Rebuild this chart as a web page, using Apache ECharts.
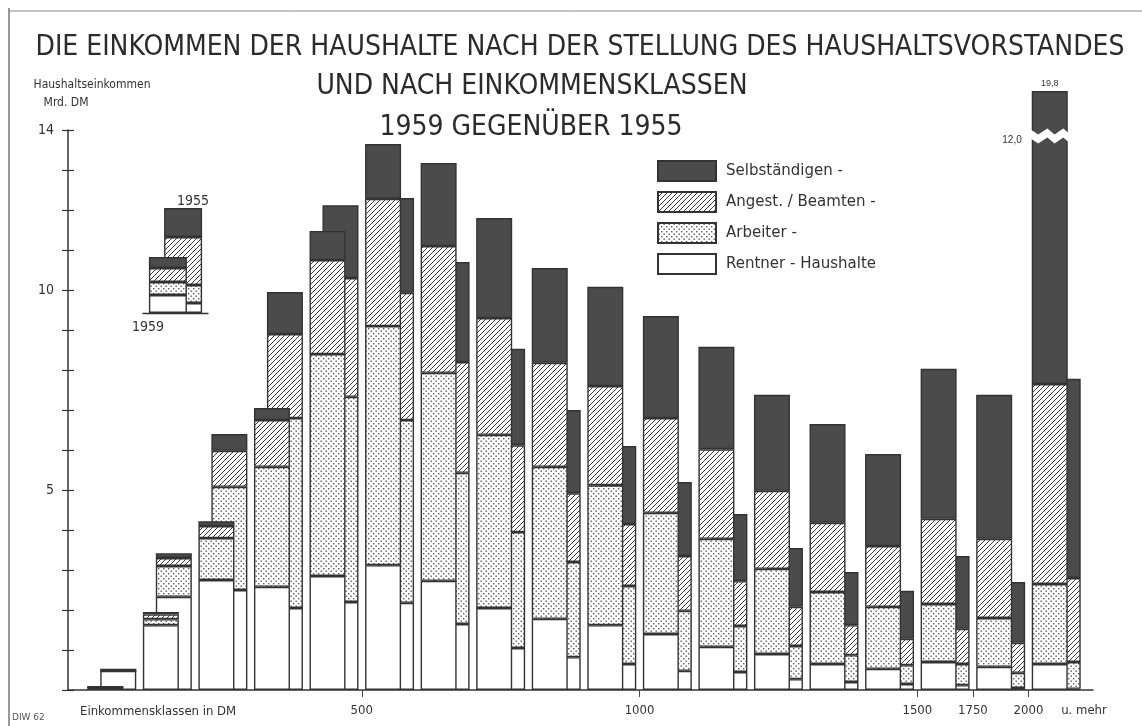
<!DOCTYPE html>
<html>
<head>
<meta charset="utf-8">
<title>Einkommen der Haushalte 1959 gegenüber 1955</title>
<script src="https://cdn.jsdelivr.net/npm/echarts@6.0.0/dist/echarts.min.js"></script>
<style>
html, body { margin: 0; padding: 0; background: #fff; }
#chart { width: 1142px; height: 726px; }
</style>
</head>
<body>
<div id="chart"></div>
<script>
// Einkommensklassen (Monatseinkommen des Haushalts in DM)
const classes = ['unter 200', '200-250', '250-300', '300-400', '400-500', '500-600', '600-700', '700-800', '800-900',
  '900-1000', '1000-1100', '1100-1200', '1200-1300', '1300-1400', '1400-1500', '1500-1750', '1750-2000', '2000 u. mehr']

// Haushaltseinkommen in Mrd. DM, 1959
const rentner1959 = [0.07, 1.62, 2.75, 2.58, 2.85, 3.12, 2.73, 2.05, 1.78, 1.62, 1.40, 1.08, 0.90, 0.65, 0.53, 0.70, 0.58, 0.65]
const arbeiter1959 = [0, 0.15, 1.05, 3.00, 5.55, 5.98, 5.20, 4.33, 3.80, 3.50, 3.03, 2.70, 2.13, 1.80, 1.55, 1.45, 1.22, 2.00]
const angest1959 = [0, 0.12, 0.30, 1.17, 2.35, 3.18, 3.17, 2.92, 2.60, 2.48, 2.37, 2.24, 1.95, 1.73, 1.52, 2.13, 1.98, 5.00]
const selbst1959 = [0.02, 0.06, 0.12, 0.30, 0.73, 1.37, 2.08, 2.50, 2.37, 2.48, 2.55, 2.56, 2.40, 2.47, 2.30, 3.75, 3.60, 12.15]

// Haushaltseinkommen in Mrd. DM, 1955
const rentner1955 = [0.48, 2.33, 2.50, 2.05, 2.20, 2.18, 1.65, 1.05, 0.82, 0.65, 0.48, 0.45, 0.27, 0.20, 0.15, 0.12, 0.05, 0.03]
const arbeiter1955 = [0, 0.77, 2.58, 4.75, 5.13, 4.57, 3.78, 2.90, 2.38, 1.95, 1.50, 1.15, 0.83, 0.67, 0.47, 0.53, 0.38, 0.67]
const angest1955 = [0, 0.20, 0.90, 2.10, 2.97, 3.18, 2.77, 2.17, 1.72, 1.55, 1.37, 1.12, 0.98, 0.75, 0.66, 0.88, 0.75, 2.10]
const selbst1955 = [0.05, 0.12, 0.42, 1.05, 1.82, 2.37, 2.50, 2.41, 2.08, 1.95, 1.85, 1.68, 1.47, 1.33, 1.20, 1.82, 1.52, 4.98]

// kleine Erklärungsgrafik (1959 vorn, 1955 dahinter)
const inset1959 = [1.8, 1.3, 1.4, 1.1]
const inset1955 = [1.0, 1.8, 4.8, 2.9]

const xTickLabels = ['500', '1000', '1500', '1750', '2000']
const yTickLabels = [5, 10, 14]
const breakLabel = '12,0'

const layerNames = ['Rentner - Haushalte', 'Arbeiter -', 'Angest. / Beamten -', 'Selbständigen -']

function hatchFill() {
  const c = document.createElement('canvas')
  c.width = 5; c.height = 5
  const ctx = c.getContext('2d')
  ctx.fillStyle = '#fff'
  ctx.fillRect(0, 0, 5, 5)
  ctx.strokeStyle = '#3a3a3a'
  ctx.lineWidth = 1
  ctx.beginPath()
  ctx.moveTo(-1, 6); ctx.lineTo(6, -1)
  ctx.moveTo(-1, 1); ctx.lineTo(1, -1)
  ctx.moveTo(4, 6); ctx.lineTo(6, 4)
  ctx.stroke()
  return { image: c, repeat: 'repeat' }
}

function dotFill() {
  const c = document.createElement('canvas')
  c.width = 5; c.height = 5
  const ctx = c.getContext('2d')
  ctx.fillStyle = '#fff'
  ctx.fillRect(0, 0, 5, 5)
  ctx.fillStyle = '#5a5a5a'
  ctx.fillRect(0.5, 0.5, 1.4, 1.4)
  ctx.fillRect(3, 3, 1.4, 1.4)
  return { image: c, repeat: 'repeat' }
}

const fills = ['#ffffff', dotFill(), hatchFill(), '#4b4b4b']
const border = { borderColor: '#333', borderWidth: 1.4 }

const chart = echarts.init(document.getElementById('chart'))

const data1959 = [rentner1959, arbeiter1959, angest1959, selbst1959]
const data1955 = [rentner1955, arbeiter1955, angest1955, selbst1955]
const last = classes.length - 1
const total1959Last = data1959.reduce((s, arr) => s + arr[last], 0)

// 1959 steht vorn links, 1955 dahinter nach rechts versetzt
// (Stapelnamen nicht rein numerisch, sonst sortiert ECharts die Stapel selbst)
const series = []
layerNames.forEach((name, i) => {
  const values = data1959[i].map((v, k) => {
    if (i === 3 && k === last) {
      return {
        value: v,
        label: { show: true, position: 'top', distance: 3, formatter: total1959Last.toFixed(1).replace('.', ','), fontSize: 9, color: '#333' }
      }
    }
    return v
  })
  const s = {
    name, type: 'bar', stack: 'y1959', xAxisIndex: 0, yAxisIndex: 0,
    barWidth: 36, barGap: '-64%', z: 3,
    itemStyle: Object.assign({ color: fills[i] }, border),
    emphasis: { disabled: true },
    data: values
  }
  if (i === 3) {
    s.markPoint = {
      symbol: 'circle', symbolSize: 0,
      data: [{ coord: [last, 13.75], label: { show: true, position: 'left', distance: 28, formatter: breakLabel, fontSize: 10, color: '#333' } }]
    }
  }
  series.push(s)
})
layerNames.forEach((name, i) => {
  series.push({
    name, type: 'bar', stack: 'y1955', xAxisIndex: 0, yAxisIndex: 0,
    barWidth: 36, barGap: '-64%', z: 2,
    itemStyle: Object.assign({ color: fills[i] }, border),
    emphasis: { disabled: true },
    data: data1955[i]
  })
})
// Erklärung
layerNames.forEach((name, i) => {
  series.push({
    name: 'inset59 ' + name, type: 'bar', stack: 'i1959', xAxisIndex: 3, yAxisIndex: 3,
    barWidth: 38, barGap: '-60%', z: 3,
    itemStyle: Object.assign({ color: fills[i] }, border),
    emphasis: { disabled: true },
    data: [inset1959[i]]
  })
})
layerNames.forEach((name, i) => {
  series.push({
    name: 'inset55 ' + name, type: 'bar', stack: 'i1955', xAxisIndex: 3, yAxisIndex: 3,
    barWidth: 38, barGap: '-60%', z: 2,
    itemStyle: Object.assign({ color: fills[i] }, border),
    emphasis: { disabled: true },
    data: [inset1955[i]]
  })
})

const tickPos = xTickLabels.map(l => classes.findIndex(c => c.split('-')[0] === l || c.startsWith(l + ' ')))
const labelFont = { fontFamily: 'DejaVu Sans Condensed, DejaVu Sans, sans-serif', color: '#333' }
const titleFont = { fontFamily: 'DejaVu Sans Condensed, sans-serif', fontSize: 28, fontWeight: 'normal', color: '#2b2b2b' }

const option = {
  backgroundColor: '#fff',
  animation: false,
  title: [
    { text: 'DIE EINKOMMEN DER HAUSHALTE NACH DER STELLUNG DES HAUSHALTSVORSTANDES', left: 580, textAlign: 'center', top: 34, padding: 0,
      textStyle: titleFont },
    { text: 'UND NACH EINKOMMENSKLASSEN', left: 532, textAlign: 'center', top: 73, padding: 0, textStyle: titleFont },
    { text: '1959 GEGENÜBER 1955', left: 531, textAlign: 'center', top: 114, padding: 0, textStyle: titleFont },
    { text: 'Haushaltseinkommen', left: 92, textAlign: 'center', top: 79, padding: 0,
      textStyle: Object.assign({ fontSize: 12, fontWeight: 'normal' }, labelFont) },
    { text: 'Mrd. DM', left: 66, textAlign: 'center', top: 97, padding: 0,
      textStyle: Object.assign({ fontSize: 12, fontWeight: 'normal' }, labelFont) },
    { text: 'Einkommensklassen in DM', left: 80, top: 705, padding: 0,
      textStyle: Object.assign({ fontSize: 13, fontWeight: 'normal' }, labelFont) }
  ],
  legend: {
    orient: 'vertical', left: 652, top: 155,
    icon: 'rect',
    itemWidth: 58, itemHeight: 20, itemGap: 9,
    selectedMode: false,
    data: ['Selbständigen -', 'Angest. / Beamten -', 'Arbeiter -', 'Rentner - Haushalte'],
    textStyle: { fontFamily: 'DejaVu Sans, sans-serif', fontSize: 15, color: '#333', padding: [0, 0, 0, 5] }
  },
  grid: [
    // Daten (mit Achsenbruch für die höchste Klasse)
    { left: 84, right: 58, top: 83, bottom: 36 },
    // sichtbare Achsen
    { left: 68, right: 49, top: 130, bottom: 36 },
    // frei
    { left: 0, right: 0, top: 0, bottom: 0, show: false },
    // Erklärung
    { left: 143, width: 65, top: 208, height: 105 }
  ],
  xAxis: [
    { gridIndex: 0, type: 'category', data: classes, boundaryGap: true,
      axisLine: { show: false }, axisTick: { show: false }, axisLabel: { show: false } },
    { gridIndex: 1, type: 'value', min: 0, max: 1, splitLine: { show: false },
      axisLine: { show: true, lineStyle: { color: '#333', width: 1.5 } }, axisTick: { show: false }, axisLabel: { show: false } },
    { gridIndex: 0, type: 'value', min: 0, max: classes.length, position: 'bottom', splitLine: { show: false },
      axisLine: { show: false },
      axisTick: { show: true, customValues: tickPos, length: 7, lineStyle: { color: '#444', width: 1 } },
      axisLabel: { show: true, customValues: tickPos.concat([classes.length]), margin: 14, fontSize: 13,
        fontFamily: labelFont.fontFamily, color: '#333',
        formatter: v => v === classes.length ? 'u. mehr' : xTickLabels[tickPos.indexOf(v)] } },
    { gridIndex: 3, type: 'category', data: ['Erklärung'], boundaryGap: true,
      axisLine: { show: true, lineStyle: { color: '#333', width: 1.3 } }, axisTick: { show: false }, axisLabel: { show: false } }
  ],
  yAxis: [
    { gridIndex: 0, type: 'value', min: 0, max: 20,
      breaks: [{ start: 13.75, end: 18.8, gap: '1.5%' }],
      breakArea: { show: true, itemStyle: { color: '#fff', borderColor: '#fff', borderWidth: 0, opacity: 1 },
        zigzagAmplitude: 3, zigzagMinSpan: 6, zigzagMaxSpan: 10, zigzagZ: 5, expandOnClick: false },
      axisLine: { show: false }, axisTick: { show: false }, axisLabel: { show: false }, splitLine: { show: false } },
    { gridIndex: 1, type: 'value', position: 'left', min: 0, max: 14, interval: 1, splitLine: { show: false },
      axisLine: { show: true, lineStyle: { color: '#333', width: 1.5 } },
      axisTick: { show: true, length: 6, lineStyle: { color: '#333', width: 1.2 } },
      axisLabel: { show: true, customValues: yTickLabels, margin: 14, fontSize: 14, fontFamily: labelFont.fontFamily, color: '#333' } },
    { gridIndex: 1, type: 'value', position: 'left', offset: 0, min: 0, max: 14, interval: 1, splitLine: { show: false },
      axisLine: { show: false },
      axisTick: { show: true, inside: true, length: 6, lineStyle: { color: '#333', width: 1.2 } },
      axisLabel: { show: false } },
    { gridIndex: 3, type: 'value', min: 0, max: 10.5, show: false }
  ],
  graphic: [
    { type: 'line', shape: { x1: 9, y1: 8, x2: 9, y2: 726 }, style: { stroke: '#555', lineWidth: 1.2 } },
    { type: 'line', shape: { x1: 9, y1: 11, x2: 1142, y2: 11 }, style: { stroke: '#888', lineWidth: 1 } },
    { type: 'text', x: 12, y: 713, style: { text: 'DIW 62', fontSize: 9, fill: '#555', fontFamily: 'DejaVu Sans, sans-serif' } },
    { type: 'text', x: 177, y: 194, style: { text: '1955', fontSize: 14, fill: '#333', fontFamily: labelFont.fontFamily } },
    { type: 'text', x: 132, y: 320, style: { text: '1959', fontSize: 14, fill: '#333', fontFamily: labelFont.fontFamily } }
  ],
  series
}

chart.setOption(option)
</script>
</body>
</html>
